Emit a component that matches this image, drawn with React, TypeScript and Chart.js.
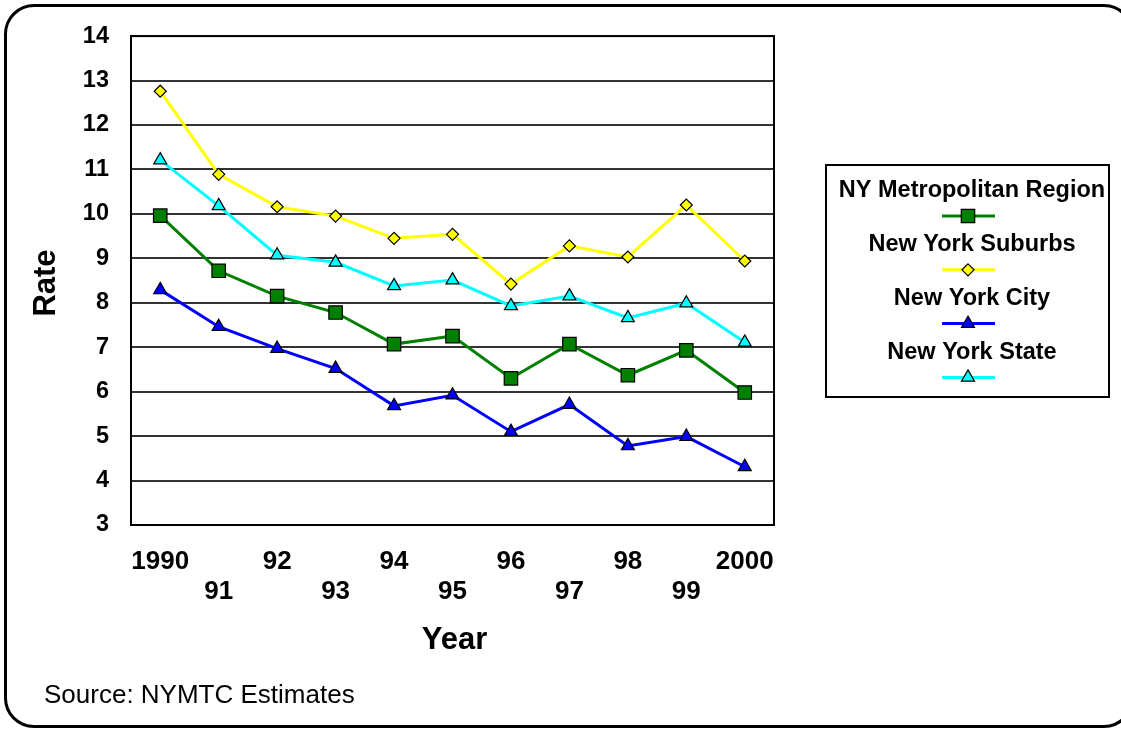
import React, { useEffect, useRef } from 'react';
import { Chart, registerables } from 'chart.js';

Chart.register(...registerables);

// ---- data ----
const years = ['1990', '91', '92', '93', '94', '95', '96', '97', '98', '99', '2000'];
const metroRegion = [9.96, 8.72, 8.15, 7.78, 7.07, 7.25, 6.3, 7.07, 6.37, 6.93, 5.98];
const suburbs = [12.76, 10.89, 10.16, 9.95, 9.45, 9.54, 8.42, 9.28, 9.03, 10.2, 8.94];
const nyCity = [8.29, 7.46, 6.97, 6.52, 5.68, 5.92, 5.1, 5.71, 4.78, 4.99, 4.31];
const nyState = [11.21, 10.18, 9.07, 8.91, 8.38, 8.51, 7.93, 8.15, 7.66, 7.99, 7.11];
const seriesNames = ['NY Metropolitan Region', 'New York Suburbs', 'New York City', 'New York State'];
const yMin = 3;
const yMax = 14;
const yStep = 1;
const xTitle = 'Year';
const yTitle = 'Rate';
const sourceNote = 'Source: NYMTC Estimates';

const FONT = "'Liberation Sans', Arial, Helvetica, sans-serif";

function drawMarker(ctx: CanvasRenderingContext2D, style: string, x: number, y: number, r: number) {
  ctx.beginPath();
  if (style === 'rect') {
    const s = r * Math.SQRT1_2;
    ctx.rect(x - s, y - s, 2 * s, 2 * s);
  } else if (style === 'rectRot') {
    ctx.moveTo(x, y - r);
    ctx.lineTo(x + r, y);
    ctx.lineTo(x, y + r);
    ctx.lineTo(x - r, y);
    ctx.closePath();
  } else {
    const a = (2 * Math.PI) / 3;
    ctx.moveTo(x, y - r);
    ctx.lineTo(x + Math.sin(a) * r, y - Math.cos(a) * r);
    ctx.lineTo(x + Math.sin(2 * a) * r, y - Math.cos(2 * a) * r);
    ctx.closePath();
  }
  ctx.fill();
  ctx.stroke();
}

const decorPlugin = {
  id: 'decor',
  beforeDatasetsDraw(chart: any) {
    const { ctx, chartArea: ca } = chart;
    ctx.save();
    ctx.strokeStyle = '#000';
    ctx.lineWidth = 2;
    ctx.strokeRect(ca.left, ca.top, ca.right - ca.left, ca.bottom - ca.top);
    ctx.restore();
  },
  afterDraw(chart: any) {
    const { ctx, chartArea: ca } = chart;
    ctx.save();
    ctx.fillStyle = '#000';
    ctx.textAlign = 'center';
    ctx.textBaseline = 'middle';
    ctx.font = `bold 31px ${FONT}`;
    ctx.fillText(xTitle, (ca.left + ca.right) / 2 + 2, 640);
    ctx.save();
    ctx.translate(46, 283);
    ctx.rotate(-Math.PI / 2);
    ctx.fillText(yTitle, 0, 0);
    ctx.restore();

    ctx.font = `26px ${FONT}`;
    ctx.textAlign = 'left';
    ctx.fillText(sourceNote, 44, 696);

    // legend box
    const lx = 826, ly = 165, lw = 283, lh = 232;
    ctx.fillStyle = '#fff';
    ctx.fillRect(lx, ly, lw, lh);
    ctx.strokeStyle = '#000';
    ctx.lineWidth = 2;
    ctx.strokeRect(lx, ly, lw, lh);

    const step = 53.8;
    chart.data.datasets.forEach((ds: any, i: number) => {
      const ty = 191 + i * step;
      const sy = 216 + i * step;
      ctx.fillStyle = '#000';
      ctx.textAlign = 'center';
      ctx.font = `bold 23.5px ${FONT}`;
      ctx.fillText(ds.label, 972, ty);
      ctx.strokeStyle = ds.borderColor;
      ctx.lineWidth = 3;
      ctx.beginPath();
      ctx.moveTo(942, sy);
      ctx.lineTo(995, sy);
      ctx.stroke();
      ctx.fillStyle = ds.pointBackgroundColor;
      ctx.strokeStyle = '#000';
      ctx.lineWidth = 1.2;
      drawMarker(ctx, ds.pointStyle, 968, sy, ds.pointRadius);
    });
    ctx.restore();
  },
};

export default function App() {
  const canvasRef = useRef<HTMLCanvasElement | null>(null);

  useEffect(() => {
    document.body.style.margin = '0';
    const canvas = canvasRef.current;
    if (!canvas) return;
    const labels = years.map((y, i) => (i % 2 === 0 ? [y, ''] : ['', y]));
    const mk = (label: string, data: number[], color: string, style: string, radius: number) => ({
      label,
      data,
      borderColor: color,
      backgroundColor: color,
      borderWidth: 3,
      tension: 0,
      pointStyle: style,
      pointRadius: radius,
      pointHoverRadius: radius,
      pointBackgroundColor: color,
      pointBorderColor: '#000',
      pointBorderWidth: 1.2,
    });
    const chart = new Chart(canvas, {
      type: 'line',
      data: {
        labels,
        datasets: [
          mk(seriesNames[0], metroRegion, '#008000', 'rect', 9.5),
          mk(seriesNames[1], suburbs, '#FFFF00', 'rectRot', 6),
          mk(seriesNames[2], nyCity, '#0000FF', 'triangle', 7.5),
          mk(seriesNames[3], nyState, '#00FFFF', 'triangle', 7.5),
        ] as any,
      },
      options: {
        responsive: false,
        animation: false,
        devicePixelRatio: 1,
        layout: { padding: { left: 0, top: 36, right: 347, bottom: 0 } },
        plugins: { legend: { display: false }, tooltip: { enabled: false } },
        scales: {
          x: {
            type: 'category',
            offset: true,
            grid: { display: false, drawTicks: false },
            border: { display: true, color: '#000', width: 2 },
            ticks: {
              color: '#000',
              autoSkip: false,
              maxRotation: 0,
              padding: 22,
              font: { family: FONT, size: 26, weight: 'bold', lineHeight: 1.15 },
            },
            afterFit: (s: any) => {
              s.height = 205;
            },
          },
          y: {
            min: yMin,
            max: yMax,
            grid: { color: '#333', lineWidth: 2, drawTicks: false },
            border: { display: true, color: '#000', width: 2 },
            ticks: {
              stepSize: yStep,
              color: '#000',
              padding: 22,
              font: { family: FONT, size: 23.5, weight: 'bold' },
            },
            afterFit: (s: any) => {
              s.width = 131;
            },
          },
        },
      } as any,
      plugins: [decorPlugin],
    });
    return () => chart.destroy();
  }, []);

  return (
    <div style={{ position: 'absolute', left: 0, top: 0, width: 1121, height: 730, overflow: 'hidden', background: '#fff' }}>
      <canvas ref={canvasRef} width={1121} height={730} style={{ display: 'block', position: 'absolute', left: 0, top: 0 }} />
      <div
        style={{
          position: 'absolute',
          left: 4,
          top: 4,
          width: 1130,
          height: 724,
          boxSizing: 'border-box',
          border: '3px solid #000',
          borderRadius: 30,
          pointerEvents: 'none',
        }}
      />
    </div>
  );
}
